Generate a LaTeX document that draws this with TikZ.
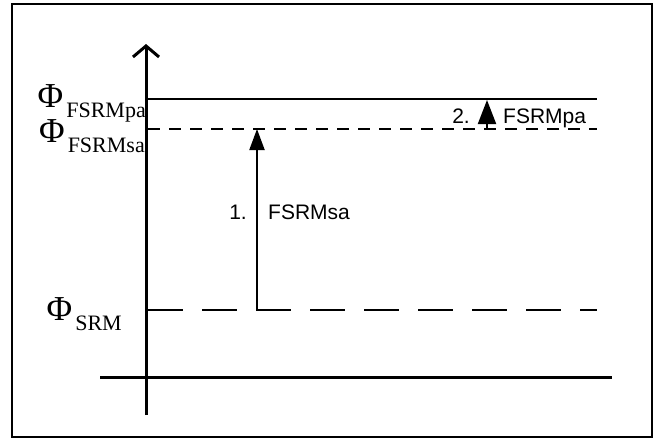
\documentclass[tikz,border=0pt]{standalone}
\usepackage{fontspec}
\setmainfont{Liberation Serif}
\setsansfont{Liberation Sans}
\usetikzlibrary{arrows.meta}

% flux symbol with a lowered subscript
\newcommand{\fluxlabel}[1]{{\fontsize{35}{35}\selectfont Φ}\kern3pt\raisebox{-10pt}{\fontsize{22}{22}\selectfont #1}}

\begin{document}
\begin{tikzpicture}[x=1pt,y=-1pt,
  axisline/.style={line width=3pt},
  level/.style={line width=2pt},
  shortdash/.style={level,dash pattern=on 12pt off 9pt},
  longdash/.style={level,dash pattern=on 35pt off 19pt},
  jump/.style={line width=2pt,-{Triangle[length=21pt,width=15pt]}},
  steplabel/.style={font=\sffamily\fontsize{21}{21}\selectfont,inner sep=0pt},
  philabel/.style={inner sep=0pt,anchor=base east}
]
\useasboundingbox (0,0) rectangle (654,439);
% outer frame
\draw[line width=2pt] (12,4) rectangle (652,437);

% axes
\coordinate (ybot) at (146,415);
\coordinate (ytop) at (146,44);
\coordinate (xl) at (100,377);
\coordinate (xr) at (612,377);
\draw[axisline,-{Straight Barb[length=11pt,width=26pt]}] (ybot) -- (ytop);
\draw[axisline] (xl) -- (xr);

% levels
\coordinate (pa0) at (148,99);  \coordinate (pa1) at (597,99);
\coordinate (sa0) at (148,129); \coordinate (sa1) at (597,129);
\coordinate (srm0) at (148,310); \coordinate (srm1) at (597,310);
\draw[level] (pa0) -- (pa1);
\draw[shortdash] (sa0) -- (sa1);
\draw[longdash] (srm0) -- (srm1);

% transitions
\coordinate (a1s) at (257,310); \coordinate (a1e) at (257,129);
\coordinate (a2s) at (487,129); \coordinate (a2e) at (487,100);
\draw[jump] (a1s) -- (a1e);
\draw[line width=2pt,-{Triangle[length=24pt,width=18pt]}] (a2s) -- (a2e);

% level labels
\node[philabel] (lpa) at (146,107) {\fluxlabel{FSRMpa}};
\node[philabel] (lsa) at (145,142) {\fluxlabel{FSRMsa}};
\node[philabel] (lsrm) at (122,320) {\fluxlabel{SRM}};

% transition labels
\node[steplabel,anchor=base east] (n1) at (247,219) {1.};
\node[steplabel,anchor=base west] (t1) at (268,219) {FSRMsa};
\node[steplabel,anchor=base east] (n2) at (470,123) {2.};
\node[steplabel,anchor=base west] (t2) at (503,123) {FSRMpa};
\end{tikzpicture}
\end{document}
